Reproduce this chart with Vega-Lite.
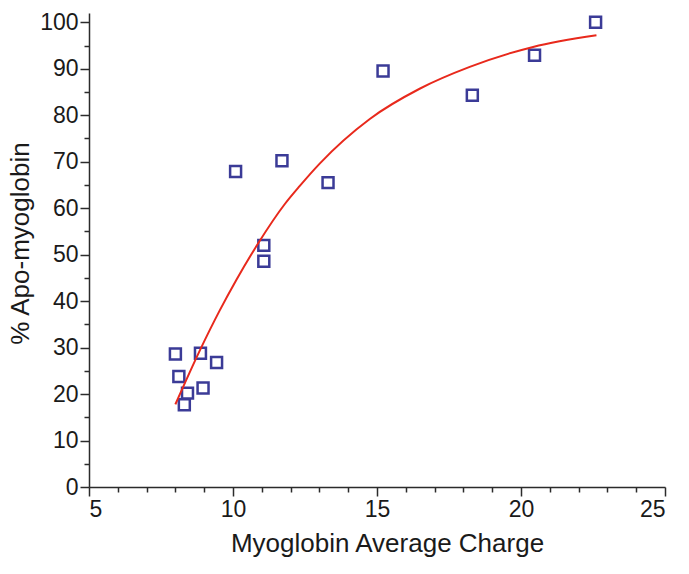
{
  "$schema": "https://vega.github.io/schema/vega-lite/v6.json",
  "width": 576,
  "height": 474,
  "autosize": {"type": "none"},
  "padding": {"left": 89, "top": 13, "right": 24, "bottom": 87},
  "background": "white",
  "config": {
    "view": {"stroke": null},
    "axis": {"labelFont": "Liberation Sans", "titleFont": "Liberation Sans", "labelColor": "#1a1a1a", "titleColor": "#1a1a1a", "domainColor": "#2b2b2b", "tickColor": "#2b2b2b", "grid": false, "labelFontWeight": "normal", "titleFontWeight": "normal"}
  },
  "datasets": {
    "points": [
      {"charge": 8.0, "apo": 28.6},
      {"charge": 8.12, "apo": 23.8},
      {"charge": 8.42, "apo": 20.2},
      {"charge": 8.31, "apo": 17.7},
      {"charge": 8.87, "apo": 28.8},
      {"charge": 8.96, "apo": 21.3},
      {"charge": 9.43, "apo": 26.8},
      {"charge": 10.09, "apo": 67.9},
      {"charge": 11.07, "apo": 52.0},
      {"charge": 11.07, "apo": 48.6},
      {"charge": 11.7, "apo": 70.2},
      {"charge": 13.3, "apo": 65.5},
      {"charge": 15.21, "apo": 89.5},
      {"charge": 18.31, "apo": 84.3},
      {"charge": 20.47, "apo": 92.9},
      {"charge": 22.59, "apo": 100.0}
    ],
    "fit": [
      {"charge": 8.0, "apo": 17.8},
      {"charge": 8.85, "apo": 29.4},
      {"charge": 9.54, "apo": 38.0},
      {"charge": 10.12, "apo": 44.6},
      {"charge": 10.87, "apo": 52.4},
      {"charge": 11.8, "apo": 60.9},
      {"charge": 12.32, "apo": 64.8},
      {"charge": 13.01, "apo": 69.6},
      {"charge": 14.75, "apo": 79.2},
      {"charge": 16.48, "apo": 85.7},
      {"charge": 18.22, "apo": 90.4},
      {"charge": 20.42, "apo": 94.7},
      {"charge": 22.62, "apo": 97.2}
    ]
  },
  "resolve": {"axis": {"x": "independent", "y": "independent"}},
  "layer": [
    {
      "data": {"name": "fit"},
      "mark": {"type": "point", "opacity": 0},
      "encoding": {
        "x": {"field": "charge", "type": "quantitative", "scale": {"domain": [5, 25], "nice": false, "zero": false},
          "axis": {"orient": "bottom", "values": [6, 7, 8, 9, 11, 12, 13, 14, 16, 17, 18, 19, 21, 22, 23, 24], "labels": false, "domain": false, "tickSize": 5, "tickWidth": 1.5, "title": null}},
        "y": {"field": "apo", "type": "quantitative", "scale": {"domain": [0, 102], "nice": false, "zero": false},
          "axis": {"orient": "left", "values": [5, 15, 25, 35, 45, 55, 65, 75, 85, 95], "labels": false, "domain": false, "tickSize": 5, "tickWidth": 1.5, "title": null}}
      }
    },
    {
      "data": {"name": "points"},
      "mark": {"type": "point", "shape": "square", "filled": false, "color": "#3b3b97", "size": 120, "strokeWidth": 2.5, "opacity": 1},
      "encoding": {
        "x": {"field": "charge", "type": "quantitative",
          "axis": {"orient": "bottom", "values": [5, 10, 15, 20, 25], "tickSize": 9, "tickWidth": 1.5, "domainWidth": 1.5, "labelFontSize": 23, "labelPadding": 2, "title": "Myoglobin Average Charge", "titleFontSize": 26, "titlePadding": 9, "titleX": 298}},
        "y": {"field": "apo", "type": "quantitative",
          "axis": {"orient": "left", "values": [0, 10, 20, 30, 40, 50, 60, 70, 80, 90, 100], "tickSize": 9, "tickWidth": 1.5, "domainWidth": 1.5, "labelFontSize": 23, "labelPadding": 2, "title": "% Apo-myoglobin", "titleFontSize": 26, "titlePadding": 6, "titleY": 230}}
      }
    },
    {
      "data": {"name": "fit"},
      "mark": {"type": "line", "color": "#e8291c", "strokeWidth": 2, "interpolate": "monotone"},
      "encoding": {
        "x": {"field": "charge", "type": "quantitative", "axis": null},
        "y": {"field": "apo", "type": "quantitative", "axis": null}
      }
    }
  ]
}
